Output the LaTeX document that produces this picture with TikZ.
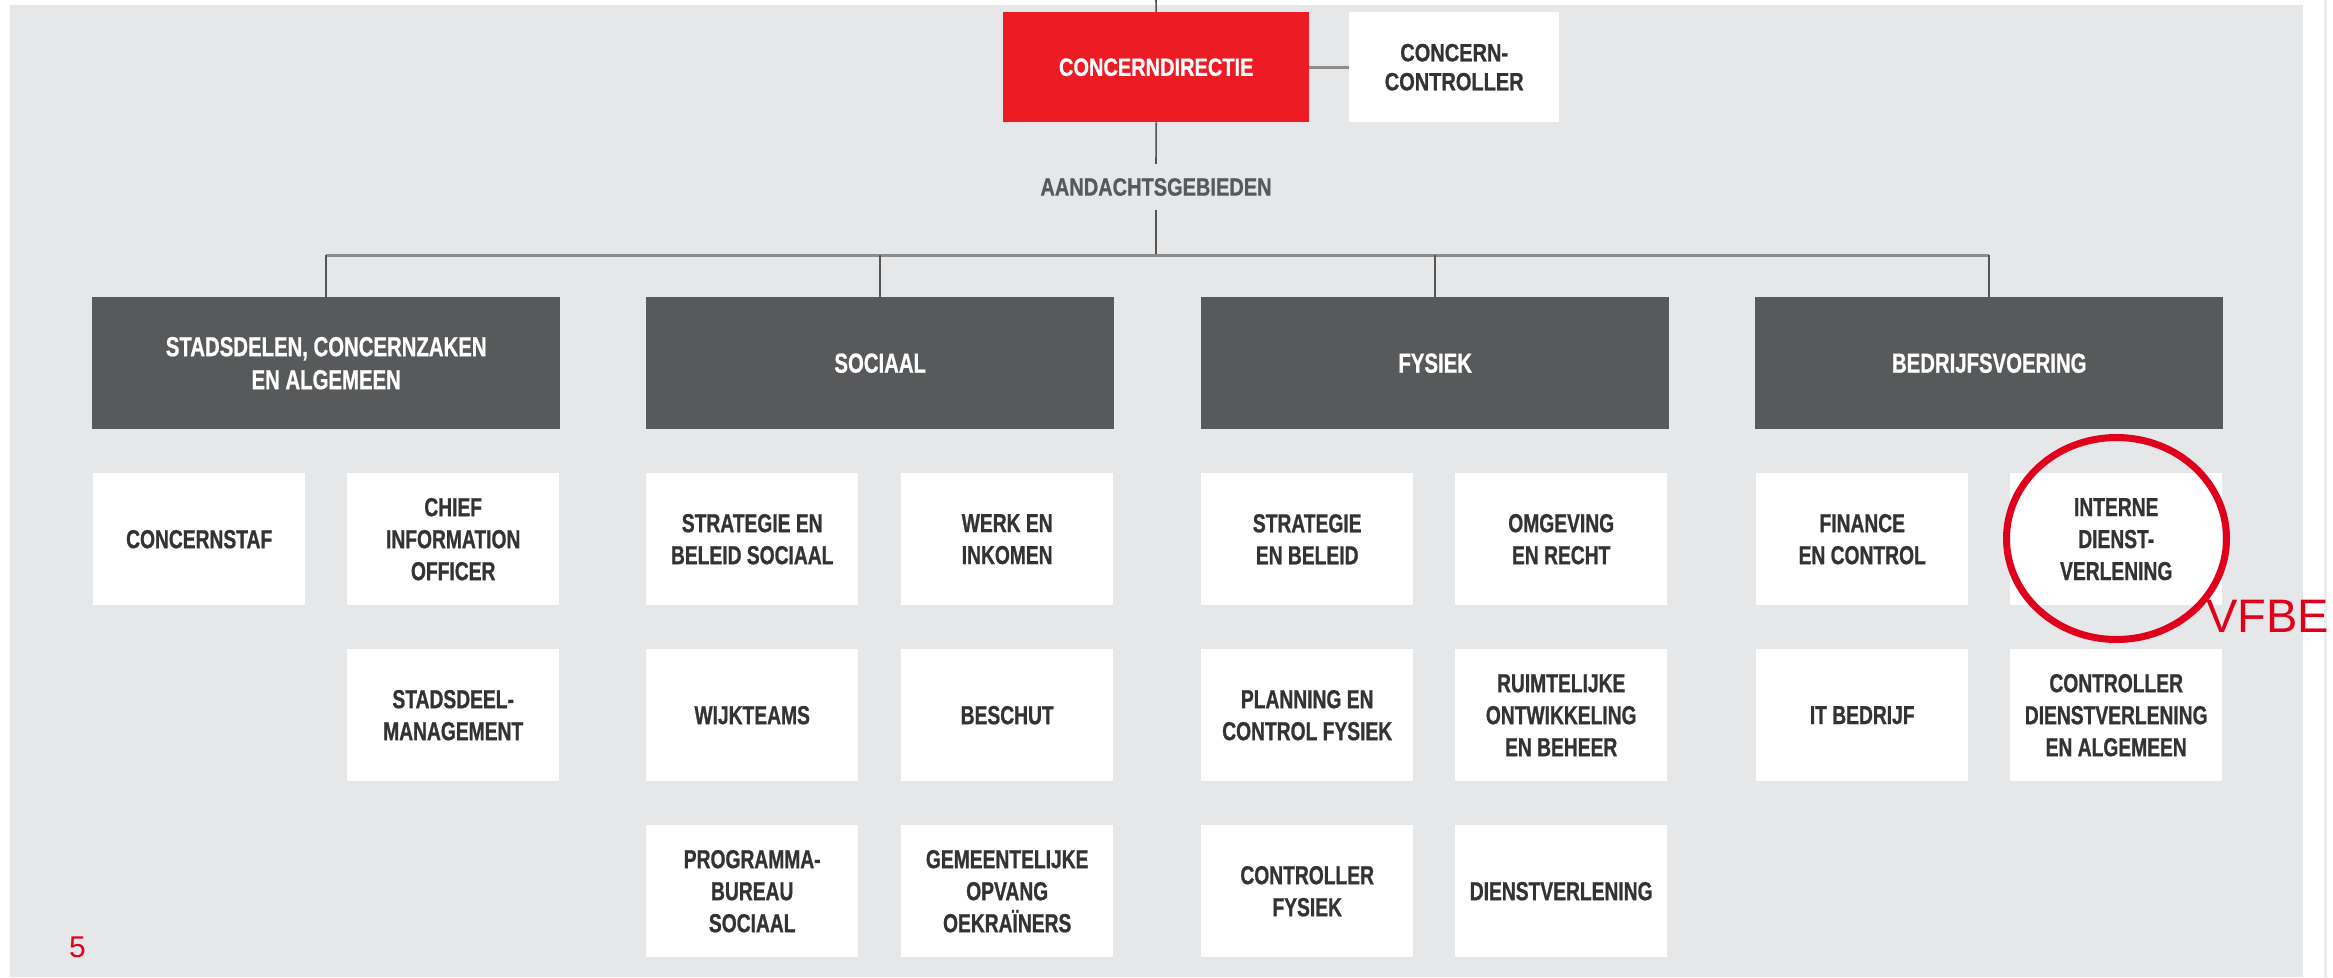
\documentclass[tikz,border=0pt]{standalone}
\usepackage{fontspec}
\setmainfont{Liberation Sans}
\newfontfamily\din{Liberation Sans}[FakeStretch=0.74, BoldFeatures={FakeBold=0.8}]
\newfontfamily\dinw{Liberation Sans}[FakeStretch=0.8, BoldFeatures={FakeBold=0.8}]
\definecolor{bg}{HTML}{E6E7E8}
\definecolor{catgray}{HTML}{58595B}
\definecolor{cdred}{HTML}{ED1C24}
\definecolor{txtdark}{HTML}{333333}
\definecolor{linedark}{HTML}{555555}
\definecolor{linegray}{HTML}{8C8C8C}
\definecolor{markred}{HTML}{E0001B}
\definecolor{edgeline}{HTML}{EBEBEB}
\begin{document}
\begin{tikzpicture}[x=1pt,y=-1pt,
  boxbase/.style={anchor=north west, inner sep=0pt, align=center,
    font=\din\bfseries\fontsize{26}{32}\selectfont},
  catbox/.style={boxbase, fill=catgray, text=white, minimum width=468pt, minimum height=132pt,
    font=\din\bfseries\fontsize{27.5}{33}\selectfont},
  subbox/.style={boxbase, fill=white, text=txtdark, minimum width=212pt, minimum height=132pt},
  topfont/.style={font=\dinw\bfseries\fontsize{25}{29}\selectfont},
  vline/.style={draw=linedark, line width=1.6pt},
  hline/.style={draw=linegray, line width=3pt}]
\useasboundingbox (0,0) rectangle (2333,977);
\fill[white] (0,0) rectangle (2333,977);
\fill[bg] (10,5) rectangle (2303,977);
\draw[edgeline, line width=3pt] (2325,0) -- (2325,977);

% top
\node[boxbase, topfont, fill=cdred, text=white, minimum width=306pt, minimum height=110pt] (cd) at (1003,12) {CONCERNDIRECTIE};
\node[boxbase, topfont, fill=white, text=txtdark, minimum width=210pt, minimum height=110pt] (cc) at (1349,12) {CONCERN-\\CONTROLLER};
\node[topfont, inner sep=0pt, minimum height=46pt, text=catgray] (aand) at (1156,187) {AANDACHTSGEBIEDEN};
\coordinate (top) at (1156,0);

% categories
\node[catbox] (c1) at (92,297) {STADSDELEN, CONCERNZAKEN\\EN ALGEMEEN};
\node[catbox] (c2) at (646,297) {SOCIAAL};
\node[catbox] (c3) at (1201,297) {FYSIEK};
\node[catbox] (c4) at (1755,297) {BEDRIJFSVOERING};

\coordinate (hl) at (326,255);
\coordinate (hr) at (1989,255);

% connectors
\draw[vline] (top) -- (cd.north);
\draw[hline] (cd.east) -- (cc.west);
\draw[vline] (cd.south) -- (aand.north);
\draw[vline] (aand.south) -- (aand.south |- hl);
\draw[hline] (hl) -- (hr);
\foreach \c in {c1,c2,c3,c4} \draw[vline] (\c.north |- hl) -- (\c.north);

% sub boxes column 1
\node[subbox] (s1a1) at (93,473) {CONCERNSTAF};
\node[subbox] (s1b1) at (347,473) {CHIEF\\INFORMATION\\OFFICER};
\node[subbox] (s1b2) at (347,649) {STADSDEEL-\\MANAGEMENT};
% column 2
\node[subbox] (s2a1) at (646,473) {STRATEGIE EN\\BELEID SOCIAAL};
\node[subbox] (s2b1) at (901,473) {WERK EN\\INKOMEN};
\node[subbox] (s2a2) at (646,649) {WIJKTEAMS};
\node[subbox] (s2b2) at (901,649) {BESCHUT};
\node[subbox] (s2a3) at (646,825) {PROGRAMMA-\\BUREAU\\SOCIAAL};
\node[subbox] (s2b3) at (901,825) {GEMEENTELIJKE\\OPVANG\\OEKRAÏNERS};
% column 3
\node[subbox] (s3a1) at (1201,473) {STRATEGIE\\EN BELEID};
\node[subbox] (s3b1) at (1455,473) {OMGEVING\\EN RECHT};
\node[subbox] (s3a2) at (1201,649) {PLANNING EN\\CONTROL FYSIEK};
\node[subbox] (s3b2) at (1455,649) {RUIMTELIJKE\\ONTWIKKELING\\EN BEHEER};
\node[subbox] (s3a3) at (1201,825) {CONTROLLER\\FYSIEK};
\node[subbox] (s3b3) at (1455,825) {DIENSTVERLENING};
% column 4
\node[subbox] (s4a1) at (1756,473) {FINANCE\\EN CONTROL};
\node[subbox] (s4b1) at (2010,473) {INTERNE\\DIENST-\\VERLENING};
\node[subbox] (s4a2) at (1756,649) {IT BEDRIJF};
\node[subbox] (s4b2) at (2010,649) {CONTROLLER\\DIENSTVERLENING\\EN ALGEMEEN};

% annotations
\draw[markred, line width=7pt] (2116.5,538.5) ellipse [x radius=110, y radius=101];
\node[anchor=base west, inner sep=0pt, text=markred, font=\fontsize{47}{50}\selectfont] (vfbe) at (2206,632) {VFBE};
\node[anchor=base, inner sep=0pt, text=markred, font=\fontsize{30}{32}\selectfont] (pnum) at (77.5,957) {5};
\end{tikzpicture}
\end{document}
